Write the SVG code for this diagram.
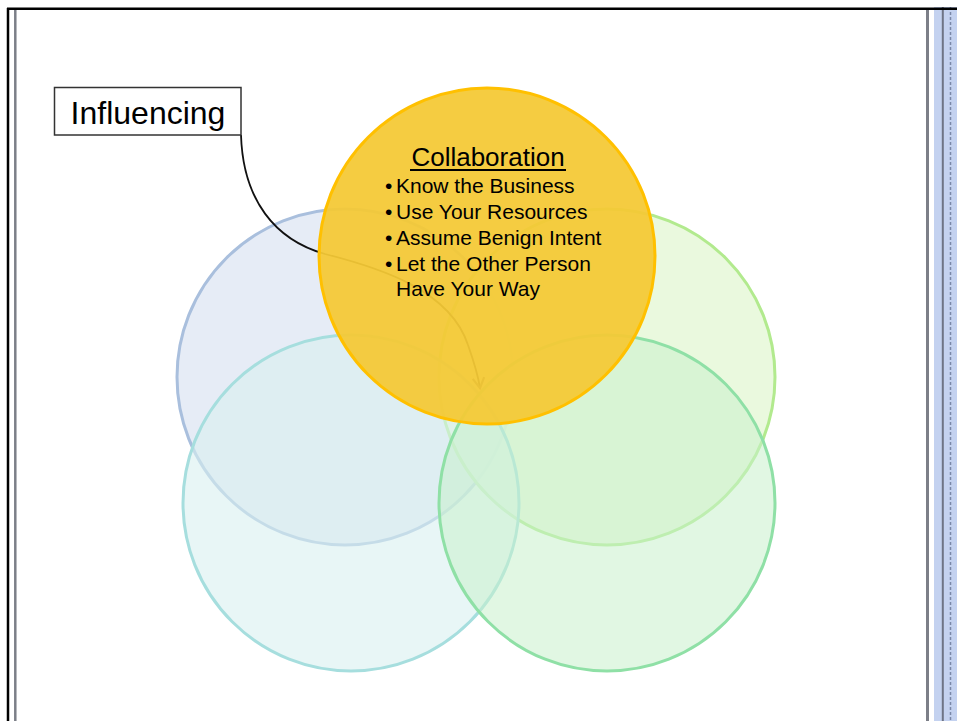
<svg xmlns="http://www.w3.org/2000/svg" width="957" height="721" viewBox="0 0 957 721">
<defs>
<style>
text{font-family:"Liberation Sans",Arial,sans-serif;fill:#000}
.b{font-size:21px}
.c{stroke-width:3}
</style>
<marker id="ah" viewBox="0 0 10 10" refX="8" refY="5" markerWidth="8" markerHeight="8" orient="auto"><path d="M1,1 L8,5 L1,9" fill="none" stroke="#555" stroke-width="1.5"/></marker>
</defs>
<rect width="957" height="721" fill="#fff"/>
<g id="frame">
<rect x="934" y="7" width="23" height="714" fill="#c4d2f0"/>
<line x1="950.5" y1="7" x2="950.5" y2="721" stroke="#7a88a8" stroke-width="1.5" stroke-dasharray="3 2"/>
<line x1="942.8" y1="7" x2="942.8" y2="721" stroke="#6e7486" stroke-width="2"/>
<line x1="927.5" y1="9" x2="927.5" y2="721" stroke="#7c7f88" stroke-width="3"/>
<line x1="7" y1="8.8" x2="957" y2="8.8" stroke="#000" stroke-width="2.5"/>
<line x1="8" y1="8" x2="8" y2="721" stroke="#000" stroke-width="2.5"/>
<line x1="15.3" y1="10" x2="15.3" y2="721" stroke="#7c7f88" stroke-width="2.5"/>
</g>
<g id="circle-blue"><circle cx="345" cy="377" r="168" fill="#e2e9f5" fill-opacity="0.85" stroke="#a9bfdd" class="c"/></g>
<g id="circle-lightgreen"><circle cx="607" cy="377" r="168" fill="#e6f8d8" fill-opacity="0.85" stroke="#b2ea8e" class="c"/></g>
<g id="circle-teal"><circle cx="351" cy="503" r="168" fill="#d8f0f0" fill-opacity="0.6" stroke="#a6dede" class="c"/></g>
<g id="circle-green"><circle cx="607" cy="503" r="168" fill="#c8f0cc" fill-opacity="0.55" stroke="#8fe0a6" class="c"/></g>
<g id="connectors">
<path d="M241,135 C243,200 275,240 325,254 C380,268 450,290 468,345 C474,362 478,375 480,388" fill="none" stroke="#111" stroke-width="1.8" marker-end="url(#ah)"/>
</g>
<g id="circle-yellow">
<circle cx="487" cy="256" r="168" fill="#f4c935" fill-opacity="0.94" stroke="#ffc000" class="c"/>
<text x="488" y="166" font-size="26" text-anchor="middle">Collaboration</text>
<line x1="410" y1="170" x2="566" y2="170" stroke="#000" stroke-width="1.8"/>
<text class="b" x="385" y="193">•</text><text class="b" x="396" y="193">Know the Business</text>
<text class="b" x="385" y="219">•</text><text class="b" x="396" y="219">Use Your Resources</text>
<text class="b" x="385" y="245">•</text><text class="b" x="396" y="245">Assume Benign Intent</text>
<text class="b" x="385" y="271">•</text><text class="b" x="396" y="271">Let the Other Person</text>
<text class="b" x="396" y="296">Have Your Way</text>
</g>
<g id="influencing">
<rect x="54.5" y="87.5" width="186.5" height="47.5" fill="#fff" stroke="#333" stroke-width="1.5"/>
<text x="148" y="124" font-size="32" text-anchor="middle">Influencing</text>
</g>
</svg>
